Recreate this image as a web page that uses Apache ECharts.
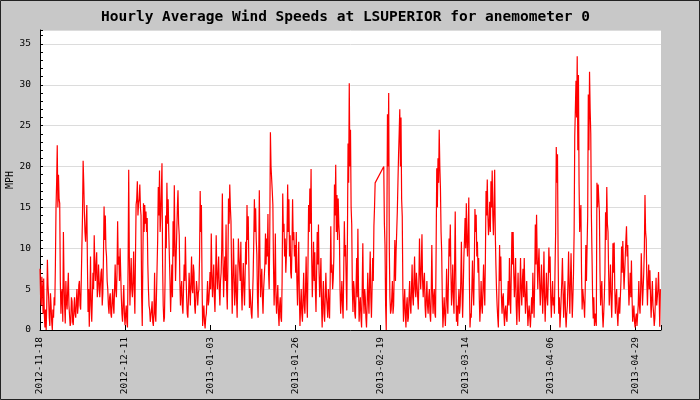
<!DOCTYPE html>
<html>
<head>
<meta charset="utf-8">
<script src="https://cdn.jsdelivr.net/npm/echarts@6/dist/echarts.min.js"></script>
<style>
  html, body { margin: 0; padding: 0; background: #c8c8c8; }
  #chart { width: 700px; height: 400px; }
</style>
</head>
<body>
<div id="chart"></div>
<script>
const titleText = 'Hourly Average Wind Speeds at LSUPERIOR for anemometer 0'
const dateLabels = ['2012-11-18', '2012-12-11', '2013-01-03', '2013-01-26',
  '2013-02-19', '2013-03-14', '2013-04-06', '2013-04-29']
const labelStepDays = 23
const totalDays = 168
const samplesPerDay = 6

// wind speed (MPH), 6 readings per day from 2012-11-18, one row = one day, null = no data
const windMph = [
  7.5, 4, 3, 6.5, 5, 2,
  6.3, 2, 0.3, 2.5, 0, 3,
  8.6, 5.5, 4, 1.5, 0.5, 4.5,
  3, 1, 0, 2.5, 1.5, 4,
  3, 8, 15, 18, 22.6, 15,
  19, 16, 15.5, 6, 2, 4.5,
  5, 1, 12, 6, 3, 0.8,
  6, 3.5, 2.5, 5, 7, 3,
  3, 0.5, 1, 4, 3.5, 1,
  0.6, 2.5, 4, 2, 1.5, 3.5,
  5, 2, 3, 5.5, 6, 3,
  2.5, 6, 10.2, 14, 20.7, 18,
  14.5, 12, 10.8, 13, 15.3, 8,
  2.2, 5, 0.4, 4, 9, 3,
  1, 4, 7, 5, 11.6, 8,
  6, 8, 9.5, 4, 5, 8,
  8, 4, 5.5, 7, 7.5, 3,
  4.5, 9, 15.1, 11, 14, 10,
  9, 6, 5, 3, 2, 4,
  4.5, 2, 1.5, 3.5, 5, 3,
  2, 5, 8, 5, 4, 7,
  13.3, 8, 9, 6, 10, 7,
  4, 2, 1, 3.5, 5.5, 2,
  0.6, 2, 3, 1, 0.3, 8,
  19.6, 9, 3, 6, 8.8, 5,
  4, 6, 9.6, 5, 2, 9,
  15.3, 16, 18.2, 14, 15.5, 16,
  17.8, 15, 14, 4, 0.5, 9,
  15.5, 12, 15.3, 13, 14.5, 12,
  13.7, 8, 5, 3, 2.5, 1,
  1, 2.5, 3.5, 1, 0.5, 2,
  7, 2, 1, 4, 7.5, 11,
  17.5, 14, 19.5, 12, 13.9, 17,
  20.4, 8, 3, 1, 1.5, 6,
  14, 10, 18, 13, 16, 12,
  12, 6, 2.2, 5, 8, 4,
  13.3, 9, 17.7, 11, 6, 9,
  12, 15, 17.1, 13, 11.6, 6,
  3, 5, 6, 3, 2, 5,
  8, 6, 11.4, 7, 4, 2,
  1.5, 4, 7, 5, 3, 6,
  9, 5, 4.5, 8, 7, 3,
  2, 4, 6, 5, 3, 4.5,
  5, 9, 17, 12, 15.3, 6,
  0.5, 2, 3, 1, 0.2, 1.5,
  2, 4, 6, 3, 3.5, 5,
  7.1, 5, 11.8, 7, 4, 6,
  8, 4, 2.2, 6, 11.6, 7,
  5, 7, 9, 5, 3, 6,
  7, 10, 16.7, 9, 4, 7,
  9, 6, 12.9, 5, 2.5, 8,
  16.1, 13, 17.8, 15, 13.3, 7,
  2, 6, 11.2, 7, 3, 5,
  8, 4, 1.5, 6, 11.2, 9,
  8.8, 6, 10.8, 5, 2.4, 6,
  8.2, 5, 3, 7, 10.8, 8,
  15.3, 11, 13.9, 8, 2.7, 5,
  5, 2, 1.4, 4, 6.7, 11,
  16, 12, 14.9, 11, 9.2, 4,
  1.5, 8, 17.1, 9, 4, 6,
  7.5, 4, 2, 5, 5, 8,
  11.8, 8, 11.2, 9, 14.2, 7,
  5, 12, 24.2, 20, 19.9, 17,
  15.3, 8, 3, 6, 11.8, 4,
  2, 4, 5.5, 2, 0.5, 3,
  4, 1.5, 1, 6, 16.7, 12,
  13, 9, 11.2, 7, 9.2, 12,
  17.8, 12, 16, 9, 11.6, 7,
  6.3, 10, 16, 11, 12, 9,
  10.4, 7, 12, 6, 3, 7,
  10.8, 4, 0.5, 3, 5, 2,
  1, 4, 7, 3, 2, 5,
  9, 4, 1.5, 8, 15.3, 12,
  17.3, 13, 19.7, 9, 4, 7,
  10.8, 6, 9.5, 5, 2.2, 7,
  12, 8, 12.9, 7, 4, 6,
  8.8, 3, 0.3, 4, 6, 2,
  1, 4, 7, 4, 3, 1.5,
  5, 3, 1.4, 6, 12.7, 7,
  8, 5, 6.3, 9, 17.8, 14,
  20.2, 12, 16.5, 11, 16.1, 13,
  11.6, 5, 2, 4, 6, 3,
  1.4, 7, 13.3, 9, 10.4, 6,
  2.4, 11, 22.8, 18, 30.2, 20,
  24.5, 15, 12.9, 5, 2.2, 6,
  5, 2, 1.4, 5, 8.8, 4,
  12.4, 5, 1, 3, 4, 1.5,
  0.3, 5, 10.6, 4, 2, 5,
  4, 1.5, 0.3, 3, 7, 4,
  2, 6, 9.6, 4, 1.5, 5,
  8.8, 6, 12.7, 15, 18, null,
  null, null, null, null, null, null,
  null, null, null, null, null, null,
  20, 13, 10.4, 3, 0, 12,
  26.4, 20, 29, 10, 4, 2,
  2.5, 4, 6, 2, 3, 7,
  11, 6, 9.6, 12, 14.5, 18,
  21.4, 24, 27, 20, 26, 16,
  13.9, 5, 1, 3, 5, 2,
  0.3, 3, 4, 1, 1.5, 4,
  6, 3, 2, 5, 8, 4,
  3, 6, 9, 5, 4, 7,
  7, 4, 2.5, 6, 11.2, 7,
  5, 8, 11.7, 6, 4, 6,
  7, 3, 1.5, 4, 6, 3,
  2, 4, 5, 2, 1, 4,
  10.4, 5, 2, 4, 5, 2,
  1.5, 10, 19.8, 15, 21, 18,
  24.5, 20, 17.3, 12, 9.6, 4,
  0.3, 2, 4, 2, 0.5, 3,
  7.5, 4, 2, 6, 11.2, 9,
  12.9, 7, 3, 5, 8, 4,
  2, 8, 14.5, 6, 1, 3,
  0.5, 3, 5, 2, 3, 6,
  10.8, 5, 1.5, 5, 8.8, 11,
  13.7, 10, 15.5, 11, 9, 12,
  16.2, 6, 0.3, 2, 1.5, 5,
  8.5, 5, 3, 8, 14.8, 12,
  14.1, 9, 10.8, 7, 8.8, 4,
  1, 3, 6, 3, 2, 5,
  8, 5, 3, 9, 17, 14,
  18.4, 14, 11.6, 13, 15.7, 12,
  18.2, 15, 19.5, 14, 11.6, 15,
  19.6, 12, 8, 5, 3, 1.5,
  0.3, 5, 10.4, 6, 9, 4,
  2, 4, 4.5, 2, 0.5, 2.5,
  3, 1.5, 1, 3.5, 6, 3,
  8.8, 4, 2, 7, 12, 8,
  12, 7, 4, 6, 8.8, 3,
  0.6, 4, 7, 3, 1, 5,
  8.8, 5, 3, 6, 7.5, 4,
  8.8, 5, 2, 4, 6, 3,
  0.5, 2, 3, 1.5, 0.3, 2,
  4, 2, 7, 4, 1.5, 6,
  12.9, 8, 14.1, 9, 5, 8,
  10, 6, 3, 5, 8, 5,
  2, 5, 9.6, 4, 1, 4,
  7, 4, 3, 6, 10.1, 7,
  9, 4, 1.5, 4, 6, 3,
  4, 2, 7.5, 12, 22.4, 18,
  21.5, 9, 2, 4, 0.3, 2,
  4, 6, 8.8, 5, 1.5, 4,
  6, 2, 0.3, 2, 3, 6,
  9.6, 5, 2, 6, 9.4, 5,
  1.5, 4, 7, 12, 23.7, 27,
  30.5, 26, 33.5, 22, 31.2, 18,
  12, 14, 15.3, 7, 2.5, 5,
  5, 3, 1.5, 5, 10.4, 6,
  6, 14, 28.8, 22, 31.6, 27,
  24, 14, 9.2, 4, 1.4, 4,
  0.5, 2, 1.8, 0.5, 18, 15,
  17.8, 16, 14.5, 7, 3, 5,
  6, 2, 0.3, 2, 4, 7,
  14.4, 11, 17.5, 13, 12, 7,
  3, 5, 8, 4, 1.5, 5,
  10.6, 7, 10.7, 5, 2, 4,
  5, 2, 0.5, 2.5, 4, 2,
  2, 6, 10.2, 7, 10.9, 8,
  5, 7, 9, 11, 12.7, 9,
  10.4, 6, 3, 5, 7, 4,
  8.5, 4, 1, 2, 3, 1,
  0.3, 1.5, 2, 0.5, 0.5, 3,
  6, 3, 2, 5, 9.4, 6,
  3, 5, 7, 10, 16.5, 12,
  11.1, 6, 3, 6, 8, 5,
  7.3, 4, 1.5, 4, 6, 3,
  2, 0.5, 1.4, 4, 6.4, 3,
  3, 5, 7.1, 4, 0.4, 5
]

const points = windMph.map((v, i) => [i / samplesPerDay, v])
const mono = 'DejaVu Sans Mono'

const chart = echarts.init(document.getElementById('chart'), null, { renderer: 'canvas' })
chart.setOption({
  animation: false,
  backgroundColor: '#c8c8c8',
  title: {
    text: titleText,
    left: 96,
    top: 5,
    textStyle: { fontFamily: mono, fontSize: 14.5, fontWeight: 'bold', color: '#000' }
  },
  graphic: [{
    type: 'rect',
    shape: { x: 0.5, y: 0.5, width: 699, height: 399 },
    style: { fill: 'none', stroke: '#222', lineWidth: 1 },
    silent: true
  }],
  grid: {
    left: 40, right: 39, top: 30, bottom: 70,
    outerBoundsMode: 'none',
    containLabel: false,
    show: true, backgroundColor: '#fff', borderWidth: 0
  },
  xAxis: {
    type: 'value',
    min: 0,
    max: totalDays,
    interval: labelStepDays,
    axisLine: { lineStyle: { color: '#000', width: 1 } },
    axisTick: { inside: true, length: 5, lineStyle: { color: '#000' } },
    axisLabel: {
      rotate: 90,
      margin: 7,
      color: '#000',
      fontFamily: mono,
      fontSize: 9.5,
      formatter: v => (v % labelStepDays === 0 ? dateLabels[v / labelStepDays] : '')
    },
    splitLine: { show: false }
  },
  yAxis: {
    type: 'value',
    min: 0,
    max: 36.7,
    interval: 5,
    name: 'MPH',
    nameLocation: 'middle',
    nameGap: 25,
    nameMoveOverlap: false,
    nameTextStyle: { fontFamily: mono, fontSize: 10, color: '#000' },
    axisLine: { show: true, lineStyle: { color: '#000', width: 1 } },
    axisTick: { show: true, inside: true, length: 3, lineStyle: { color: '#000' } },
    minorTick: { show: true, splitNumber: 5, length: 3, lineStyle: { color: '#000' } },
    axisLabel: {
      margin: 9,
      color: '#000',
      fontFamily: mono,
      fontSize: 9.5,
      formatter: v => (v % 5 === 0 ? String(v) : '')
    },
    splitLine: { lineStyle: { color: '#dcdcdc', width: 1 } }
  },
  series: [{
    name: 'wind',
    type: 'line',
    data: points,
    symbol: 'none',
    connectNulls: true,
    lineStyle: { color: '#ff0000', width: 1.2 },
    itemStyle: { color: '#ff0000' }
  }]
})
</script>
</body>
</html>
